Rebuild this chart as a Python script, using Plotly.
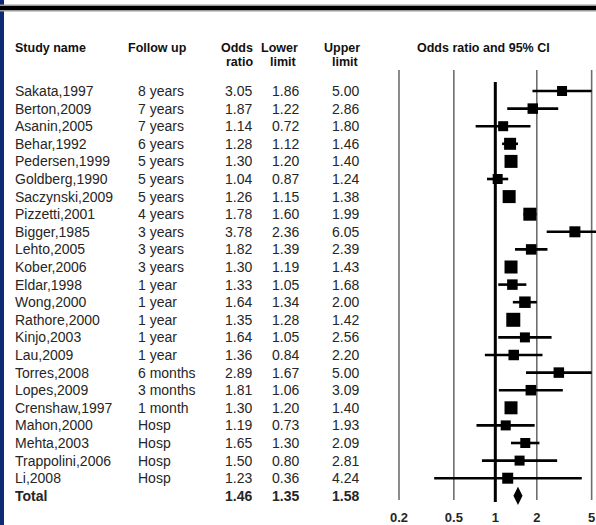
import math
import plotly.graph_objects as go

# ---- data -------------------------------------------------------------
studies = ["Sakata,1997", "Berton,2009", "Asanin,2005", "Behar,1992", "Pedersen,1999",
           "Goldberg,1990", "Saczynski,2009", "Pizzetti,2001", "Bigger,1985", "Lehto,2005",
           "Kober,2006", "Eldar,1998", "Wong,2000", "Rathore,2000", "Kinjo,2003", "Lau,2009",
           "Torres,2008", "Lopes,2009", "Crenshaw,1997", "Mahon,2000", "Mehta,2003",
           "Trappolini,2006", "Li,2008"]
follow_up = ["8 years", "7 years", "7 years", "6 years", "5 years", "5 years", "5 years",
             "4 years", "3 years", "3 years", "3 years", "1 year", "1 year", "1 year",
             "1 year", "1 year", "6 months", "3 months", "1 month", "Hosp", "Hosp", "Hosp",
             "Hosp"]
odds_ratio = [3.05, 1.87, 1.14, 1.28, 1.30, 1.04, 1.26, 1.78, 3.78, 1.82, 1.30, 1.33, 1.64,
              1.35, 1.64, 1.36, 2.89, 1.81, 1.30, 1.19, 1.65, 1.50, 1.23]
lower_limit = [1.86, 1.22, 0.72, 1.12, 1.20, 0.87, 1.15, 1.60, 2.36, 1.39, 1.19, 1.05, 1.34,
               1.28, 1.05, 0.84, 1.67, 1.06, 1.20, 0.73, 1.30, 0.80, 0.36]
upper_limit = [5.00, 2.86, 1.80, 1.46, 1.40, 1.24, 1.38, 1.99, 6.05, 2.39, 1.43, 1.68, 2.00,
               1.42, 2.56, 2.20, 5.00, 3.09, 1.40, 1.93, 2.09, 2.81, 4.24]
total_label = "Total"
total_or = 1.46
total_lower = 1.35
total_upper = 1.58
tick_values = [0.2, 0.5, 1, 2, 5]
tick_labels = ["0.2", "0.5", "1", "2", "5"]

# square side (px) for each study box
box_size = [10, 10.5, 10, 12, 13, 10, 13, 13, 11, 10.5, 13, 10.5, 11.5, 14, 10, 10.5,
            10.5, 10.5, 13, 10, 10, 10, 11]

# ---- layout constants -------------------------------------------------
W, H = 596, 525
ROW0, ROW_STEP = 91.0, 17.6          # pixel centre of first row, row pitch
PX_PER_DEC = 137.8                   # log axis scale
X_LEFT_PX, X_REF_PX = 380.0, 399.0   # plot-area left edge, position of 0.2

def py_to_row(py):
    return (py - ROW0) / ROW_STEP

x_lo = math.log10(0.2) - (X_REF_PX - X_LEFT_PX) / PX_PER_DEC
x_hi = x_lo + (W - X_LEFT_PX) / PX_PER_DEC

FONT = "Liberation Sans, Arial, sans-serif"
TXT = "#262626"
n = len(studies)
rows = list(range(n))
total_row = n

fig = go.Figure()

# reference lines
thin_top, thin_bot = py_to_row(70), py_to_row(500)
for v in tick_values:
    if v == 1:
        continue
    fig.add_trace(go.Scatter(x=[v, v], y=[thin_top, thin_bot], mode="lines",
                             line=dict(color="#6e6e6e", width=1.6),
                             hoverinfo="skip", showlegend=False))
fig.add_trace(go.Scatter(x=[1, 1], y=[py_to_row(82), py_to_row(502)], mode="lines",
                         line=dict(color="#000000", width=3),
                         hoverinfo="skip", showlegend=False))

# confidence intervals
ci_x, ci_y = [], []
for i in rows:
    ci_x += [lower_limit[i], upper_limit[i], None]
    ci_y += [i, i, None]
fig.add_trace(go.Scatter(x=ci_x, y=ci_y, mode="lines",
                         line=dict(color="#000000", width=2.6),
                         hoverinfo="skip", showlegend=False))

# study boxes
fig.add_trace(go.Scatter(x=odds_ratio, y=rows, mode="markers",
                         marker=dict(symbol="square", size=box_size, color="#000000",
                                     opacity=1, line=dict(width=0)),
                         showlegend=False))

# pooled estimate
fig.add_trace(go.Scatter(x=[total_or], y=[total_row], mode="markers",
                         marker=dict(symbol="diamond-tall", size=13, color="#000000",
                                     opacity=1, line=dict(width=0)),
                         showlegend=False))

# axis tick labels
fig.add_trace(go.Scatter(x=tick_values, y=[py_to_row(519)] * len(tick_values), mode="text",
                         text=tick_labels,
                         textfont=dict(family=FONT, size=13, color=TXT, weight="bold"),
                         hoverinfo="skip", showlegend=False))

ann = []

def cell(px, row, text, anchor="left", bold=False):
    ann.append(dict(x=px / W, xref="paper", y=row, yref="y", text=text,
                    xanchor=anchor, yanchor="middle", showarrow=False, borderpad=0,
                    font=dict(family=FONT, size=14, color=TXT,
                              weight="bold" if bold else "normal")))

def head(px, py, text, anchor="left"):
    ann.append(dict(x=px / W, xref="paper", y=1 - py / H, yref="paper", text=text,
                    xanchor=anchor, yanchor="middle", showarrow=False, borderpad=0,
                    font=dict(family=FONT, size=12.5, color="#111111", weight="bold")))

# column headers
head(14, 48, "Study name")
head(127, 48, "Follow up")
head(254, 48, "Odds", "right")
head(254, 62, "ratio", "right")
head(299, 48, "Lower", "right")
head(298, 62, "limit", "right")
head(361, 48, "Upper", "right")
head(360, 62, "limit", "right")
head(483, 48, "Odds ratio and 95% CI", "center")

# table body
for i in rows:
    cell(14, i, studies[i])
    cell(137, i, follow_up[i])
    cell(253, i, f"{odds_ratio[i]:.2f}", "right")
    cell(300, i, f"{lower_limit[i]:.2f}", "right")
    cell(360, i, f"{upper_limit[i]:.2f}", "right")
cell(14, total_row, total_label, bold=True)
cell(253, total_row, f"{total_or:.2f}", "right", bold=True)
cell(300, total_row, f"{total_lower:.2f}", "right", bold=True)
cell(360, total_row, f"{total_upper:.2f}", "right", bold=True)

shapes = [
    # navy strip down the left edge
    dict(type="rect", xref="paper", yref="paper", x0=0, x1=4 / W, y0=0, y1=1,
         fillcolor="#0d2b74", line=dict(width=0), layer="above"),
    # heavy rule across the top
    dict(type="line", xref="paper", yref="paper", x0=0, x1=1,
         y0=1 - 8 / H, y1=1 - 8 / H, line=dict(color="#9a9a9a", width=7)),
    dict(type="line", xref="paper", yref="paper", x0=0, x1=1,
         y0=1 - 8 / H, y1=1 - 8 / H, line=dict(color="#000000", width=4)),
]

fig.update_layout(
    width=W, height=H,
    margin=dict(l=0, r=0, t=0, b=0),
    paper_bgcolor="#ffffff", plot_bgcolor="#ffffff",
    xaxis=dict(type="log", range=[x_lo, x_hi], domain=[X_LEFT_PX / W, 1],
               visible=False, showgrid=False, zeroline=False),
    yaxis=dict(range=[py_to_row(H), py_to_row(0)], domain=[0, 1],
               visible=False, showgrid=False, zeroline=False),
    annotations=ann,
    shapes=shapes,
    showlegend=False,
)

fig.write_html("out.html")
